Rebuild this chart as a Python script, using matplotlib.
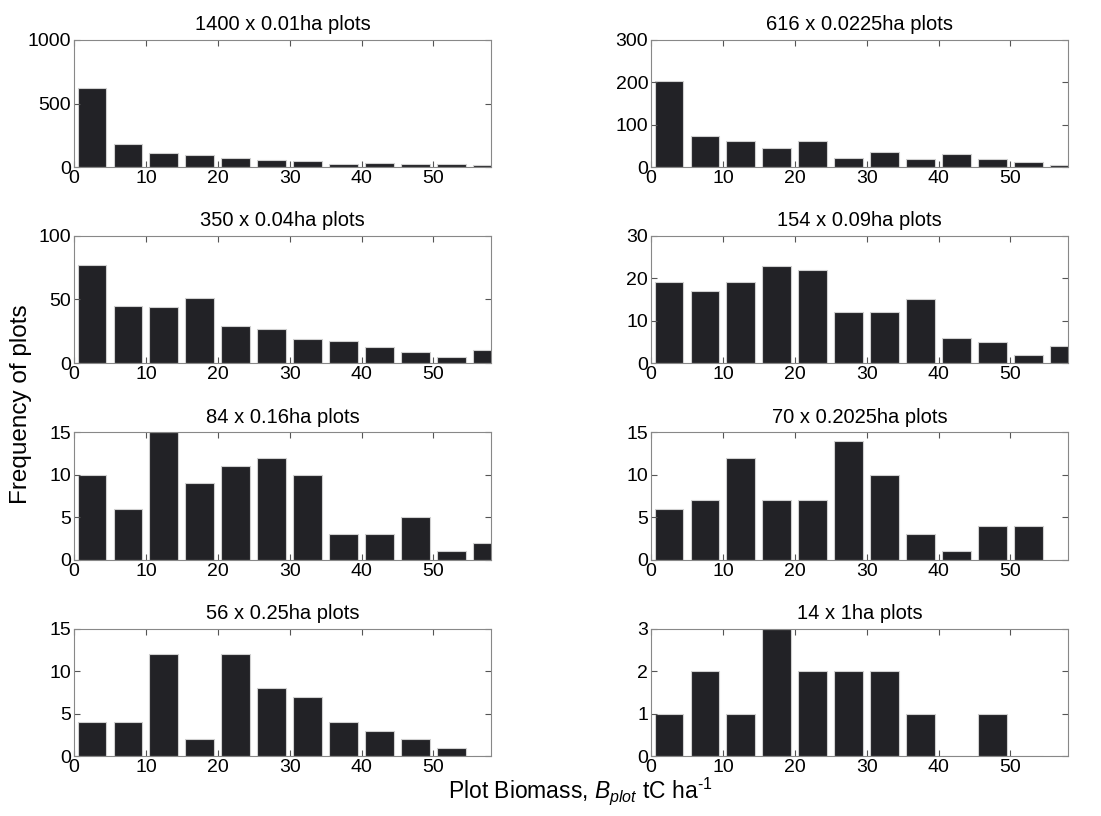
import numpy as np
import matplotlib
matplotlib.use("Agg")
from matplotlib import pyplot as plt

plt.rcParams['font.family'] = ['Liberation Sans', 'DejaVu Sans']
plt.rcParams['mathtext.fontset'] = 'custom'
plt.rcParams['mathtext.it'] = 'Liberation Sans:italic'
plt.rcParams['mathtext.rm'] = 'Liberation Sans'

# bin centres (tC/ha), 5 wide
bin_centres = [2.5, 7.5, 12.5, 17.5, 22.5, 27.5, 32.5, 37.5, 42.5, 47.5, 52.5, 57.5]

titles = ["1400 x 0.01ha plots", "616 x 0.0225ha plots",
          "350 x 0.04ha plots", "154 x 0.09ha plots",
          "84 x 0.16ha plots", "70 x 0.2025ha plots",
          "56 x 0.25ha plots", "14 x 1ha plots"]

counts_001 = [620, 183, 113, 97, 76, 60, 47, 24, 31, 29, 29, 18]
counts_00225 = [203, 74, 61, 46, 63, 22, 37, 20, 31, 19, 12, 6]
counts_004 = [77, 45, 44, 51, 29, 27, 19, 17, 13, 9, 5, 10]
counts_009 = [19, 17, 19, 23, 22, 12, 12, 15, 6, 5, 2, 4]
counts_016 = [10, 6, 15, 9, 11, 12, 10, 3, 3, 5, 1, 2]
counts_02025 = [6, 7, 12, 7, 7, 14, 10, 3, 1, 4, 4, 0]
counts_025 = [4, 4, 12, 2, 12, 8, 7, 4, 3, 2, 1, 0]
counts_1 = [1, 2, 1, 3, 2, 2, 2, 1, 0, 1, 0, 0]

all_counts = [counts_001, counts_00225, counts_004, counts_009,
              counts_016, counts_02025, counts_025, counts_1]
y_max = [1000, 300, 100, 30, 15, 15, 15, 3]
y_ticks = [[0, 500, 1000], [0, 100, 200, 300], [0, 50, 100], [0, 10, 20, 30],
           [0, 5, 10, 15], [0, 5, 10, 15], [0, 5, 10, 15], [0, 1, 2, 3]]

fig = plt.figure(figsize=(11.01, 8.16), dpi=100)

lefts = [74 / 1101, 651 / 1101]
bottoms = [0.795, 0.555, 0.314, 0.0735]
w = 417 / 1101
h = 0.156

for i in range(8):
    r, c = divmod(i, 2)
    ax = fig.add_axes([lefts[c], bottoms[r], w, h])
    ax.bar(bin_centres, all_counts[i], width=4.0, color='#222226',
           edgecolor='#d0d0d0', linewidth=0.8)
    ax.set_xlim(0, 58)
    ax.set_ylim(0, y_max[i])
    ax.set_xticks([0, 10, 20, 30, 40, 50])
    ax.set_yticks(y_ticks[i])
    ax.tick_params(direction='in', top=True, right=True, labelsize=14,
                   color='#555555', length=4, pad=2)
    for s in ax.spines.values():
        s.set_color('#888888')
    ax.set_title(titles[i], fontsize=14.5, pad=7)

fig.text(0.019, 0.505, "Frequency of plots", rotation=90, fontsize=17.5,
         ha='center', va='center')
fig.text(0.527, 0.031, "Plot Biomass, $B_{plot}$ tC ha$^{\\text{-}1}$", fontsize=16.5,
         ha='center', va='center')

fig.savefig("out.png", dpi=100)
